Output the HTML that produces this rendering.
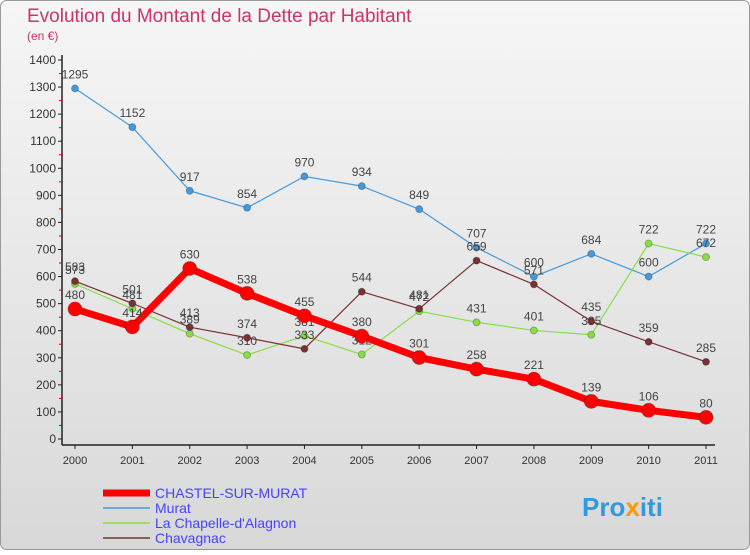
<!DOCTYPE html>
<html><head><meta charset="utf-8"><style>
body{margin:0;width:750px;height:550px;overflow:hidden;font-family:"Liberation Sans",sans-serif;}
</style></head><body>
<svg width="750" height="550" xmlns="http://www.w3.org/2000/svg">
<defs><linearGradient id="bg" x1="0" y1="0" x2="0" y2="1"><stop offset="0" stop-color="#f6f6f6"/><stop offset="1" stop-color="#d8d8d8"/></linearGradient></defs>
<rect x="0.5" y="0.5" width="749" height="549" rx="6" fill="url(#bg)" stroke="#999"/>
<text x="27" y="22" font-size="19" fill="#cc3366">Evolution du Montant de la Dette par Habitant</text>
<text x="27" y="40" font-size="12" fill="#cc3366">(en €)</text>
<g id="axes"></g><g id="series"></g>
<g>
<line x1="103" y1="493" x2="150" y2="493" stroke="#ff0000" stroke-width="7"/><text x="155" y="498" font-size="14" fill="#4444ff">CHASTEL-SUR-MURAT</text>
<line x1="103" y1="508" x2="150" y2="508" stroke="#4499dd" stroke-width="1.5"/><text x="155" y="513" font-size="14" fill="#4444ff">Murat</text>
<line x1="103" y1="523" x2="150" y2="523" stroke="#88dd44" stroke-width="1.5"/><text x="155" y="528" font-size="14" fill="#4444ff">La Chapelle-d'Alagnon</text>
<line x1="103" y1="538" x2="150" y2="538" stroke="#773333" stroke-width="1.5"/><text x="155" y="543" font-size="14" fill="#4444ff">Chavagnac</text>
</g>
<text x="582" y="516" font-size="26" font-weight="bold" fill="#3399dd">Pro<tspan fill="#ff9900">x</tspan>iti</text>
</svg>
<script>
const years=["2000","2001","2002","2003","2004","2005","2006","2007","2008","2009","2010","2011"];
const yTicks=[0,100,200,300,400,500,600,700,800,900,1000,1100,1200,1300,1400];
const chastel=[480,414,630,538,455,380,301,258,221,139,106,80];
const murat=[1295,1152,917,854,970,934,849,707,600,684,600,722];
const chapelle=[573,481,389,310,381,312,472,431,401,385,722,672];
const chavagnac=[583,501,413,374,333,544,481,659,571,435,359,285];
const NS="http://www.w3.org/2000/svg";
const X=i=>75+i*(706-75)/11, Y=v=>439-v*379/1400;
function mk(t,a,p){const e=document.createElementNS(NS,t);for(const k in a)e.setAttribute(k,a[k]);p.appendChild(e);return e;}
const ax=document.getElementById('axes'),sg=document.getElementById('series');
mk('line',{x1:62,y1:55,x2:62,y2:445,stroke:'#222','stroke-width':1.5},ax);
mk('line',{x1:62,y1:445,x2:715,y2:445,stroke:'#222','stroke-width':1.5},ax);
yTicks.forEach(v=>{const l=mk('line',{x1:58,y1:Y(v),x2:62,y2:Y(v),stroke:'#222'},ax);

if(v<1400){const m=mk('line',{x1:59,y1:Y(v+50),x2:62,y2:Y(v+50),stroke:'#d00'},ax);}
const t=mk('text',{x:56,y:Y(v)+4,'text-anchor':'end','font-size':12,fill:'#333'},ax);t.textContent=v;
});
years.forEach((y,i)=>{mk('line',{x1:X(i),y1:445,x2:X(i),y2:449,stroke:'#222'},ax);
const t=mk('text',{x:X(i),y:464,'text-anchor':'middle','font-size':11,fill:'#333'},ax);t.textContent=y;
});
function series(d,col,w,r,name){const g=mk('g',{},sg);
mk('polyline',{points:d.map((v,i)=>X(i)+','+Y(v)).join(' '),fill:'none',stroke:col,'stroke-width':w,'stroke-linejoin':'round'},g);
d.forEach((v,i)=>{const c=mk('circle',{cx:X(i),cy:Y(v),r:r,fill:col,stroke:'rgba(0,0,0,0.25)'},g);

const t=mk('text',{x:X(i),y:Y(v)-10,'text-anchor':'middle','font-size':12,fill:'#444'},g);t.textContent=v;});}
series(murat,'#4499dd',1.2,3.5,'murat-series');
series(chapelle,'#88dd44',1.2,3.5,'chapelle-series');
series(chavagnac,'#773333',1.2,3.5,'chavagnac-series');
series(chastel,'#ff0000',7,7,'chastel-series');
</script>
</body></html>
